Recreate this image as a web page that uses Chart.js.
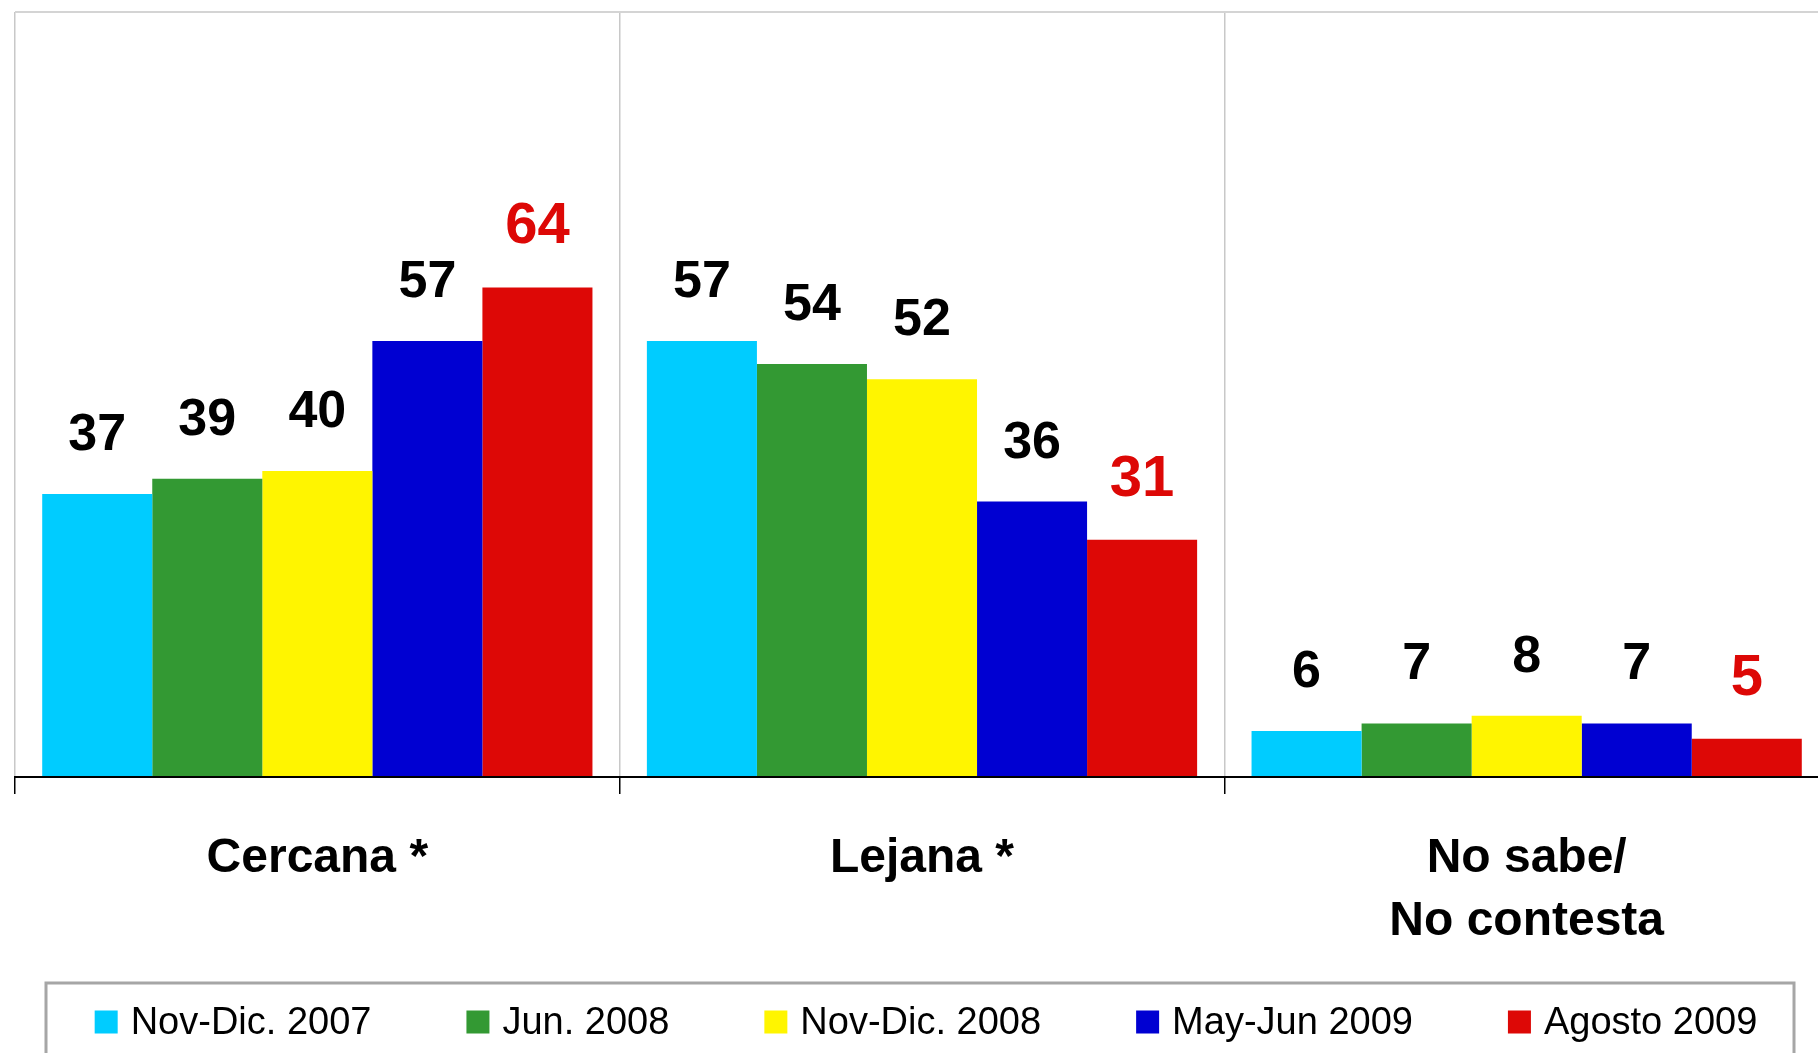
<!DOCTYPE html>
<html lang="es">
<head>
<meta charset="utf-8">
<title>Cercana / Lejana</title>
<script src="https://cdn.jsdelivr.net/npm/chart.js@4.4.1/dist/chart.umd.min.js"></script>
<style>
  html, body { margin: 0; padding: 0; background: #fff; overflow: hidden; }
  #wrap { width: 1832px; height: 1053px; }
</style>
</head>
<body>
<div id="wrap"><canvas id="chart" width="1832" height="1053"></canvas></div>
<script>
// categories and survey waves
const categories = ['Cercana *', 'Lejana *', ['No sabe/', 'No contesta']]
const seriesNames = ['Nov-Dic. 2007', 'Jun. 2008', 'Nov-Dic. 2008', 'May-Jun 2009', 'Agosto 2009']

// percentages per wave (Cercana, Lejana, NS/NC)
const novDic2007 = [37, 57, 6]
const jun2008 = [39, 54, 7]
const novDic2008 = [40, 52, 8]
const mayJun2009 = [57, 36, 7]
const agosto2009 = [64, 31, 5]

const seriesValues = [novDic2007, jun2008, novDic2008, mayJun2009, agosto2009]
const seriesColors = ['#00ccff', '#339933', '#fff500', '#0000d2', '#dd0806']

const FONT = '"Liberation Sans", Arial, Helvetica, sans-serif'
const RED = '#dd0806'

// numbers above the bars; last wave is highlighted in red
const valueLabels = {
  id: 'valueLabels',
  afterDatasetsDraw(chart) {
    const ctx = chart.ctx
    const n = chart.data.datasets.length
    ctx.save()
    ctx.textAlign = 'center'
    ctx.textBaseline = 'alphabetic'
    chart.data.datasets.forEach((ds, i) => {
      const last = i === n - 1
      ctx.fillStyle = last ? RED : '#000'
      ctx.font = `bold ${last ? 58 : 52}px ${FONT}`
      chart.getDatasetMeta(i).data.forEach((bar, j) => {
        ctx.fillText(ds.data[j], bar.x, bar.y - 44)
      })
    })
    ctx.restore()
  }
}

// legend inside a grey frame at the bottom
const boxedLegend = {
  id: 'boxedLegend',
  afterDraw(chart) {
    const ctx = chart.ctx
    const top = chart.scales.x.bottom
    const left = 46
    const right = 1794
    const box = 23
    const gapText = 13
    const gapItem = 95

    ctx.save()
    ctx.strokeStyle = '#a6a6a6'
    ctx.lineWidth = 3
    ctx.strokeRect(left, top, right - left, chart.height - top + 20)

    ctx.font = `38px ${FONT}`
    ctx.textBaseline = 'middle'
    ctx.textAlign = 'left'
    const items = chart.data.datasets.map(ds => ({
      text: ds.label,
      color: ds.backgroundColor,
      w: ctx.measureText(ds.label).width
    }))
    const total = items.reduce((s, it) => s + box + gapText + it.w, 0) + gapItem * (items.length - 1)
    let x = (left + right) / 2 + 6 - total / 2
    const cy = top + 39
    items.forEach(it => {
      ctx.fillStyle = it.color
      ctx.fillRect(x, cy - box / 2, box, box)
      ctx.fillStyle = '#000'
      ctx.fillText(it.text, x + box + gapText, cy + 2)
      x += box + gapText + it.w + gapItem
    })
    ctx.restore()
  }
}

const datasets = seriesNames.map((name, i) => ({
  label: name,
  data: seriesValues[i],
  backgroundColor: seriesColors[i],
  borderWidth: 0,
  categoryPercentage: 0.91,
  barPercentage: 1.0
}))

new Chart(document.getElementById('chart'), {
  type: 'bar',
  data: { labels: categories, datasets },
  plugins: [valueLabels, boxedLegend],
  options: {
    responsive: false,
    animation: false,
    devicePixelRatio: 1,
    layout: { padding: { top: 12, left: 15, right: 3, bottom: 70 } },
    plugins: {
      legend: { display: false },
      tooltip: { enabled: false }
    },
    scales: {
      x: {
        grid: {
          offset: true,
          color: '#c8c8c8',
          lineWidth: 1.5,
          tickColor: '#000',
          tickWidth: 1.5,
          tickLength: 17
        },
        border: { color: '#000', width: 2 },
        ticks: {
          color: '#000',
          padding: 33,
          maxRotation: 0,
          autoSkip: false,
          font: { family: FONT, size: 48, weight: 'bold', lineHeight: 1.31 }
        },
        afterFit: (scale) => { scale.height = 206 }
      },
      y: {
        min: 0,
        max: 100,
        ticks: { display: false },
        border: { display: false },
        grid: {
          drawTicks: false,
          lineWidth: 2,
          color: (c) => c.tick && c.tick.value === 100 ? '#d4d4d4' : 'rgba(0,0,0,0)'
        }
      }
    }
  }
})
</script>
</body>
</html>
